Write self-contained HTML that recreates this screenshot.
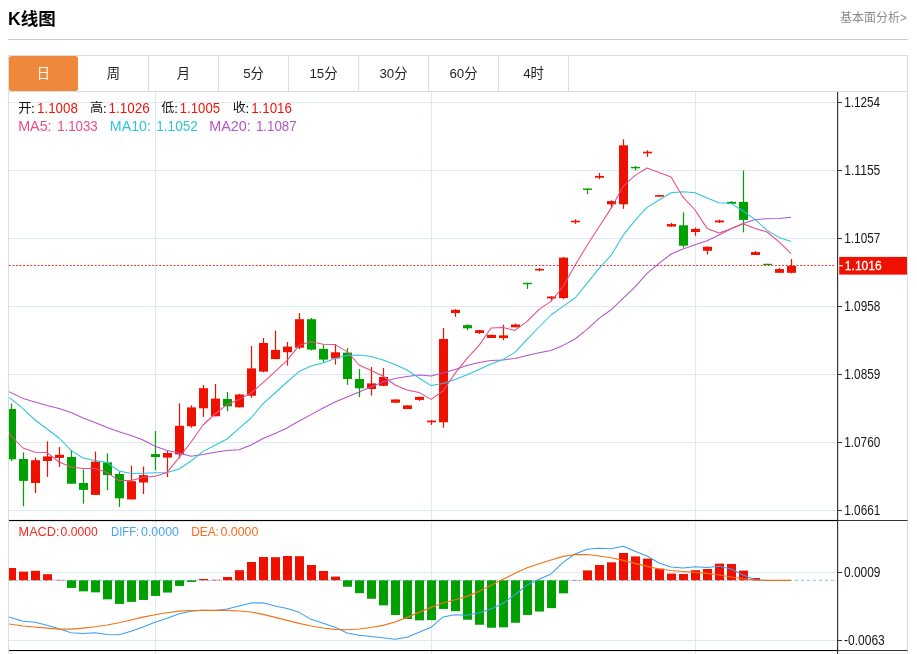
<!DOCTYPE html>
<html lang="zh-CN">
<head>
<meta charset="utf-8">
<title>K线图</title>
<style>
html,body{margin:0;padding:0;background:#fff;}
body{width:917px;height:654px;position:relative;overflow:hidden;font-family:"Liberation Sans","Noto Sans CJK SC",sans-serif;color:#333;}
.title{position:absolute;left:8px;top:6px;font-size:17.5px;font-weight:bold;color:#000;line-height:26px;white-space:nowrap;}
.more{position:absolute;right:10px;top:9px;font-size:12px;color:#8c8c8c;line-height:18px;white-space:nowrap;}
.hr{position:absolute;left:8px;top:39px;width:900px;height:1px;background:#ccc;}
.box{position:absolute;left:8px;top:55px;width:898px;height:620px;border:1px solid #dcdcdc;box-sizing:content-box;}
.tabs{position:absolute;left:8px;top:55px;width:900px;height:36px;border-bottom:1px solid #dcdcdc;}
.tab{position:absolute;top:1px;height:35px;width:69px;border-right:1px solid #dcdcdc;text-align:center;line-height:36.5px;font-size:13.3px;color:#222;}
.tab.on{background:#f0883c;color:#fff;border-radius:2.5px;border-right:none;width:69px;}
</style>
</head>
<body>
<div class="title">K线图</div>
<div class="more">基本面分析&gt;</div>
<div class="hr"></div>
<div class="box"></div>
<div class="tabs">
<div class="tab on" style="left:1px">日</div>
<div class="tab" style="left:71px">周</div>
<div class="tab" style="left:141px">月</div>
<div class="tab" style="left:211px">5分</div>
<div class="tab" style="left:281px">15分</div>
<div class="tab" style="left:351px">30分</div>
<div class="tab" style="left:421px">60分</div>
<div class="tab" style="left:491px">4时</div>
</div>
<svg width="917" height="654" viewBox="0 0 917 654" style="position:absolute;left:0;top:0">
<defs><clipPath id="cp"><rect x="9" y="92" width="828" height="562"/></clipPath></defs>
<rect x="9" y="102" width="828" height="1.05" fill="#dfe9f1"/>
<rect x="9" y="170" width="828" height="1.05" fill="#dfe9f1"/>
<rect x="9" y="238" width="828" height="1.05" fill="#dfe9f1"/>
<rect x="9" y="306" width="828" height="1.05" fill="#dfe9f1"/>
<rect x="9" y="374" width="828" height="1.05" fill="#dfe9f1"/>
<rect x="9" y="442" width="828" height="1.05" fill="#dfe9f1"/>
<rect x="9" y="510" width="828" height="1.05" fill="#dfe9f1"/>
<rect x="9" y="572" width="828" height="1.05" fill="#dfe9f1"/>
<rect x="9" y="640" width="828" height="1.05" fill="#dfe9f1"/>
<rect x="155" y="92" width="1.05" height="562" fill="#dfe9f1"/>
<rect x="431" y="92" width="1.05" height="562" fill="#dfe9f1"/>
<rect x="695" y="92" width="1.05" height="562" fill="#dfe9f1"/>
<line x1="9" y1="580.3" x2="835" y2="580.3" stroke="#7fc8ee" stroke-width="1" stroke-dasharray="3,3"/>
<g clip-path="url(#cp)">
<rect x="7" y="568" width="9" height="12.3" fill="#ee1100"/>
<rect x="19" y="571.6" width="9" height="8.7" fill="#ee1100"/>
<rect x="31" y="570.8" width="9" height="9.5" fill="#ee1100"/>
<rect x="43" y="574.2" width="9" height="6.1" fill="#ee1100"/>
<rect x="55" y="579.9" width="9" height="0.4" fill="#ee1100"/>
<rect x="67" y="580.3" width="9" height="7.65" fill="#00a000"/>
<rect x="79" y="580.3" width="9" height="11.05" fill="#00a000"/>
<rect x="91" y="580.3" width="9" height="12.05" fill="#00a000"/>
<rect x="103" y="580.3" width="9" height="19.05" fill="#00a000"/>
<rect x="115" y="580.3" width="9" height="23.65" fill="#00a000"/>
<rect x="127" y="580.3" width="9" height="21.55" fill="#00a000"/>
<rect x="139" y="580.3" width="9" height="19.65" fill="#00a000"/>
<rect x="151" y="580.3" width="9" height="15.65" fill="#00a000"/>
<rect x="163" y="580.3" width="9" height="12.25" fill="#00a000"/>
<rect x="175" y="580.3" width="9" height="5.65" fill="#00a000"/>
<rect x="187" y="580.3" width="9" height="1.65" fill="#00a000"/>
<rect x="199" y="579" width="9" height="1.3" fill="#ee1100"/>
<rect x="211" y="579.8" width="9" height="0.5" fill="#ee1100"/>
<rect x="223" y="577" width="9" height="3.3" fill="#ee1100"/>
<rect x="235" y="570.2" width="9" height="10.1" fill="#ee1100"/>
<rect x="247" y="562" width="9" height="18.3" fill="#ee1100"/>
<rect x="259" y="557" width="9" height="23.3" fill="#ee1100"/>
<rect x="271" y="557.2" width="9" height="23.1" fill="#ee1100"/>
<rect x="283" y="556" width="9" height="24.3" fill="#ee1100"/>
<rect x="295" y="556.2" width="9" height="24.1" fill="#ee1100"/>
<rect x="307" y="565" width="9" height="15.3" fill="#ee1100"/>
<rect x="319" y="571" width="9" height="9.3" fill="#ee1100"/>
<rect x="331" y="576.6" width="9" height="3.7" fill="#ee1100"/>
<rect x="343" y="580.3" width="9" height="6.45" fill="#00a000"/>
<rect x="355" y="580.3" width="9" height="12.85" fill="#00a000"/>
<rect x="367" y="580.3" width="9" height="18.45" fill="#00a000"/>
<rect x="379" y="580.3" width="9" height="25.05" fill="#00a000"/>
<rect x="391" y="580.3" width="9" height="34.65" fill="#00a000"/>
<rect x="403" y="580.3" width="9" height="38.65" fill="#00a000"/>
<rect x="415" y="580.3" width="9" height="40.05" fill="#00a000"/>
<rect x="427" y="580.3" width="9" height="39.85" fill="#00a000"/>
<rect x="439" y="580.3" width="9" height="28.65" fill="#00a000"/>
<rect x="451" y="580.3" width="9" height="30.85" fill="#00a000"/>
<rect x="463" y="580.3" width="9" height="39.45" fill="#00a000"/>
<rect x="475" y="580.3" width="9" height="44.45" fill="#00a000"/>
<rect x="487" y="580.3" width="9" height="47.45" fill="#00a000"/>
<rect x="499" y="580.3" width="9" height="47.05" fill="#00a000"/>
<rect x="511" y="580.3" width="9" height="42.45" fill="#00a000"/>
<rect x="523" y="580.3" width="9" height="34.65" fill="#00a000"/>
<rect x="535" y="580.3" width="9" height="31.25" fill="#00a000"/>
<rect x="547" y="580.3" width="9" height="27.85" fill="#00a000"/>
<rect x="559" y="580.3" width="9" height="13.05" fill="#00a000"/>
<rect x="571" y="580" width="9" height="0.3" fill="#ee1100"/>
<rect x="583" y="570.4" width="9" height="9.9" fill="#ee1100"/>
<rect x="595" y="565" width="9" height="15.3" fill="#ee1100"/>
<rect x="607" y="562.3" width="9" height="18" fill="#ee1100"/>
<rect x="619" y="553" width="9" height="27.3" fill="#ee1100"/>
<rect x="631" y="556.4" width="9" height="23.9" fill="#ee1100"/>
<rect x="643" y="558.6" width="9" height="21.7" fill="#ee1100"/>
<rect x="655" y="568.6" width="9" height="11.7" fill="#ee1100"/>
<rect x="667" y="573.6" width="9" height="6.7" fill="#ee1100"/>
<rect x="679" y="574" width="9" height="6.3" fill="#ee1100"/>
<rect x="691" y="570.2" width="9" height="10.1" fill="#ee1100"/>
<rect x="703" y="569" width="9" height="11.3" fill="#ee1100"/>
<rect x="715" y="563.6" width="9" height="16.7" fill="#ee1100"/>
<rect x="727" y="564" width="9" height="16.3" fill="#ee1100"/>
<rect x="739" y="570.6" width="9" height="9.7" fill="#ee1100"/>
<rect x="751" y="578" width="9" height="2.3" fill="#ee1100"/>
<rect x="10.9" y="403.6" width="1.2" height="57.3" fill="#00a000"/>
<rect x="7" y="409" width="9" height="50.3" fill="#00a000"/>
<rect x="22.9" y="452.4" width="1.2" height="53.9" fill="#00a000"/>
<rect x="19" y="459" width="9" height="21.9" fill="#00a000"/>
<rect x="34.9" y="457.6" width="1.2" height="35.4" fill="#ee1100"/>
<rect x="31" y="460.2" width="9" height="22.8" fill="#ee1100"/>
<rect x="46.9" y="441.4" width="1.2" height="35.5" fill="#ee1100"/>
<rect x="43" y="456.4" width="9" height="4.6" fill="#ee1100"/>
<rect x="58.9" y="447" width="1.2" height="19.9" fill="#ee1100"/>
<rect x="55" y="454.8" width="9" height="3.1" fill="#ee1100"/>
<rect x="70.9" y="450.4" width="1.2" height="33.3" fill="#00a000"/>
<rect x="67" y="457" width="9" height="26.7" fill="#00a000"/>
<rect x="82.9" y="469.4" width="1.2" height="34.3" fill="#00a000"/>
<rect x="79" y="483" width="9" height="6.9" fill="#00a000"/>
<rect x="94.9" y="451.6" width="1.2" height="43.3" fill="#ee1100"/>
<rect x="91" y="461.6" width="9" height="33.3" fill="#ee1100"/>
<rect x="106.9" y="453.4" width="1.2" height="36.9" fill="#00a000"/>
<rect x="103" y="462.4" width="9" height="12.7" fill="#00a000"/>
<rect x="118.9" y="471.6" width="1.2" height="35.3" fill="#00a000"/>
<rect x="115" y="474" width="9" height="24.3" fill="#00a000"/>
<rect x="130.9" y="465.5" width="1.2" height="34.1" fill="#ee1100"/>
<rect x="127" y="481.2" width="9" height="18.2" fill="#ee1100"/>
<rect x="142.9" y="466.6" width="1.2" height="27.4" fill="#ee1100"/>
<rect x="139" y="475.2" width="9" height="7.3" fill="#ee1100"/>
<rect x="154.9" y="431" width="1.2" height="39.3" fill="#00a000"/>
<rect x="151" y="454.1" width="9" height="2.9" fill="#00a000"/>
<rect x="166.9" y="451" width="1.2" height="26" fill="#ee1100"/>
<rect x="163" y="453" width="9" height="4.6" fill="#ee1100"/>
<rect x="178.9" y="403.4" width="1.2" height="55" fill="#ee1100"/>
<rect x="175" y="425.8" width="9" height="28.5" fill="#ee1100"/>
<rect x="190.9" y="405.4" width="1.2" height="22.3" fill="#ee1100"/>
<rect x="187" y="407.4" width="9" height="18.9" fill="#ee1100"/>
<rect x="202.9" y="385" width="1.2" height="31.9" fill="#ee1100"/>
<rect x="199" y="388.2" width="9" height="20.1" fill="#ee1100"/>
<rect x="214.9" y="384" width="1.2" height="32.3" fill="#ee1100"/>
<rect x="211" y="398.6" width="9" height="17.7" fill="#ee1100"/>
<rect x="226.9" y="392" width="1.2" height="19.3" fill="#00a000"/>
<rect x="223" y="399" width="9" height="7.3" fill="#00a000"/>
<rect x="238.9" y="394" width="1.2" height="13.5" fill="#ee1100"/>
<rect x="235" y="394.5" width="9" height="12.8" fill="#ee1100"/>
<rect x="250.9" y="346" width="1.2" height="51.8" fill="#ee1100"/>
<rect x="247" y="368.4" width="9" height="27.3" fill="#ee1100"/>
<rect x="262.9" y="338" width="1.2" height="34.3" fill="#ee1100"/>
<rect x="259" y="343" width="9" height="28.6" fill="#ee1100"/>
<rect x="274.9" y="330.6" width="1.2" height="28.5" fill="#ee1100"/>
<rect x="271" y="349.9" width="9" height="9.2" fill="#ee1100"/>
<rect x="286.9" y="342" width="1.2" height="23.6" fill="#ee1100"/>
<rect x="283" y="346.6" width="9" height="5.6" fill="#ee1100"/>
<rect x="298.9" y="313" width="1.2" height="36.2" fill="#ee1100"/>
<rect x="295" y="319.2" width="9" height="28.5" fill="#ee1100"/>
<rect x="310.9" y="318" width="1.2" height="32.5" fill="#00a000"/>
<rect x="307" y="319.2" width="9" height="30.4" fill="#00a000"/>
<rect x="322.9" y="345" width="1.2" height="17.5" fill="#00a000"/>
<rect x="319" y="348.9" width="9" height="10.7" fill="#00a000"/>
<rect x="334.9" y="344" width="1.2" height="20.6" fill="#ee1100"/>
<rect x="331" y="352.3" width="9" height="6.1" fill="#ee1100"/>
<rect x="346.9" y="348" width="1.2" height="36.8" fill="#00a000"/>
<rect x="343" y="352.6" width="9" height="26.4" fill="#00a000"/>
<rect x="358.9" y="369" width="1.2" height="28.1" fill="#00a000"/>
<rect x="355" y="379" width="9" height="9.3" fill="#00a000"/>
<rect x="370.9" y="367" width="1.2" height="28.5" fill="#ee1100"/>
<rect x="367" y="383.4" width="9" height="5.6" fill="#ee1100"/>
<rect x="382.9" y="368" width="1.2" height="18.3" fill="#ee1100"/>
<rect x="379" y="377" width="9" height="8.8" fill="#ee1100"/>
<rect x="394.9" y="399.3" width="1.2" height="3.5" fill="#ee1100"/>
<rect x="391" y="399.5" width="9" height="3.2" fill="#ee1100"/>
<rect x="406.9" y="405.2" width="1.2" height="3.8" fill="#ee1100"/>
<rect x="403" y="405.4" width="9" height="3.6" fill="#ee1100"/>
<rect x="418.9" y="396.6" width="1.2" height="4.3" fill="#ee1100"/>
<rect x="415" y="396.9" width="9" height="3" fill="#ee1100"/>
<rect x="430.9" y="420" width="1.2" height="4.9" fill="#ee1100"/>
<rect x="427" y="420.6" width="9" height="1.7" fill="#ee1100"/>
<rect x="442.9" y="328" width="1.2" height="99.7" fill="#ee1100"/>
<rect x="439" y="339" width="9" height="83.3" fill="#ee1100"/>
<rect x="454.9" y="309.2" width="1.2" height="7.6" fill="#ee1100"/>
<rect x="451" y="309.8" width="9" height="3.2" fill="#ee1100"/>
<rect x="466.9" y="324.3" width="1.2" height="5.9" fill="#00a000"/>
<rect x="463" y="325.1" width="9" height="3.2" fill="#00a000"/>
<rect x="478.9" y="329.8" width="1.2" height="4.1" fill="#ee1100"/>
<rect x="475" y="330.2" width="9" height="2.8" fill="#ee1100"/>
<rect x="490.9" y="334.6" width="1.2" height="3.4" fill="#ee1100"/>
<rect x="487" y="334.9" width="9" height="3.1" fill="#ee1100"/>
<rect x="502.9" y="324.7" width="1.2" height="15.5" fill="#ee1100"/>
<rect x="499" y="335.4" width="9" height="2.7" fill="#ee1100"/>
<rect x="514.9" y="323.6" width="1.2" height="3.7" fill="#ee1100"/>
<rect x="511" y="324.5" width="9" height="2.8" fill="#ee1100"/>
<rect x="526.9" y="282.8" width="1.2" height="6.1" fill="#00a000"/>
<rect x="523" y="282.8" width="9" height="1.4" fill="#00a000"/>
<rect x="538.9" y="268" width="1.2" height="3.2" fill="#ee1100"/>
<rect x="535" y="268.9" width="9" height="1.6" fill="#ee1100"/>
<rect x="550.9" y="296.3" width="1.2" height="3.9" fill="#ee1100"/>
<rect x="547" y="296.5" width="9" height="1.9" fill="#ee1100"/>
<rect x="562.9" y="257" width="1.2" height="42.3" fill="#ee1100"/>
<rect x="559" y="257.6" width="9" height="40.5" fill="#ee1100"/>
<rect x="574.9" y="219.3" width="1.2" height="4.6" fill="#ee1100"/>
<rect x="571" y="220.7" width="9" height="1.6" fill="#ee1100"/>
<rect x="586.9" y="188.5" width="1.2" height="5.8" fill="#00a000"/>
<rect x="583" y="188.5" width="9" height="1.4" fill="#00a000"/>
<rect x="598.9" y="172.9" width="1.2" height="6.4" fill="#ee1100"/>
<rect x="595" y="175.9" width="9" height="1.8" fill="#ee1100"/>
<rect x="610.9" y="200.3" width="1.2" height="7.6" fill="#ee1100"/>
<rect x="607" y="201.1" width="9" height="3.2" fill="#ee1100"/>
<rect x="622.9" y="139.3" width="1.2" height="69.6" fill="#ee1100"/>
<rect x="619" y="145.3" width="9" height="59" fill="#ee1100"/>
<rect x="634.9" y="165.9" width="1.2" height="4.4" fill="#00a000"/>
<rect x="631" y="166.9" width="9" height="1.4" fill="#00a000"/>
<rect x="646.9" y="150.3" width="1.2" height="6.6" fill="#ee1100"/>
<rect x="643" y="151.7" width="9" height="1.6" fill="#ee1100"/>
<rect x="658.9" y="195.1" width="1.2" height="1.6" fill="#ee1100"/>
<rect x="655" y="195.1" width="9" height="1.6" fill="#ee1100"/>
<rect x="670.9" y="222.9" width="1.2" height="4" fill="#ee1100"/>
<rect x="667" y="224.1" width="9" height="2.4" fill="#ee1100"/>
<rect x="682.9" y="212.3" width="1.2" height="35.4" fill="#00a000"/>
<rect x="679" y="225.3" width="9" height="20.4" fill="#00a000"/>
<rect x="694.9" y="227.6" width="1.2" height="8.2" fill="#ee1100"/>
<rect x="691" y="228.9" width="9" height="3.1" fill="#ee1100"/>
<rect x="706.9" y="246.7" width="1.2" height="7.9" fill="#ee1100"/>
<rect x="703" y="246.7" width="9" height="4.1" fill="#ee1100"/>
<rect x="718.9" y="219.6" width="1.2" height="3.4" fill="#ee1100"/>
<rect x="715" y="220.5" width="9" height="1.9" fill="#ee1100"/>
<rect x="730.9" y="201" width="1.2" height="2.8" fill="#00a000"/>
<rect x="727" y="201.9" width="9" height="1.9" fill="#00a000"/>
<rect x="742.9" y="170.5" width="1.2" height="61.8" fill="#00a000"/>
<rect x="739" y="201.9" width="9" height="18" fill="#00a000"/>
<rect x="754.9" y="251.1" width="1.2" height="3.9" fill="#ee1100"/>
<rect x="751" y="252.1" width="9" height="2.9" fill="#ee1100"/>
<rect x="766.9" y="263.8" width="1.2" height="1.3" fill="#00a000"/>
<rect x="763" y="263.8" width="9" height="1.3" fill="#00a000"/>
<rect x="778.9" y="267.8" width="1.2" height="5" fill="#ee1100"/>
<rect x="775" y="269.1" width="9" height="3.7" fill="#ee1100"/>
<rect x="790.9" y="259" width="1.2" height="14.4" fill="#ee1100"/>
<rect x="787" y="265.9" width="9" height="6.9" fill="#ee1100"/>
</g>
<line x1="8.9" y1="265.5" x2="835.6" y2="265.5" stroke="#ee1100" stroke-width="1" opacity="0.9" stroke-dasharray="1.79,1.79"/>
<g clip-path="url(#cp)" fill="none" stroke-width="1.05" stroke-linejoin="round">
<polyline points="9,391.6 23.05,398.4 35.05,402 47.05,405.6 59.05,408.6 71.05,412.4 83.05,418 95.05,422.6 107.05,427.6 119.05,431.8 131.05,435.6 143.05,440 155.05,446.2 167.05,450.6 179.05,453 191.05,456.2 203.05,454.6 215.05,452.2 227.05,450.4 239.05,449.8 251.05,445 263.05,438.5 275.05,433.4 287.05,428 299.05,421 311.05,414.6 323.05,408 335.05,402 347.05,397 359.05,392 371.05,387 383.05,382 395.05,378.6 407.05,376.4 419.05,375 431.05,376 443.05,373 455.05,369.4 467.05,365.4 479.05,362.4 491.05,360.4 503.05,360 515.05,358.4 527.05,355.4 539.05,352.8 551.05,350.4 563.05,345.4 575.05,339 587.05,329.4 599.05,318.4 611.05,309.8 623.05,298.4 635.05,286.8 647.05,273.4 659.05,263.4 671.05,254 683.05,249 695.05,244.8 707.05,240.8 719.05,235 731.05,228.8 743.05,223.4 755.05,219.4 767.05,218.8 779.05,218.6 791.05,217.2" stroke="#b455c8"/>
<polyline points="9,397.4 23.05,408.6 35.05,420 47.05,429 59.05,438 71.05,450.4 83.05,458 95.05,460.6 107.05,462.6 119.05,471 131.05,473.4 143.05,473.2 155.05,472.8 167.05,472.4 179.05,469 191.05,461 203.05,451.4 215.05,445.3 227.05,439 239.05,428.3 251.05,418 263.05,403.6 275.05,393 287.05,382 299.05,371.6 311.05,366 323.05,363 335.05,358.6 347.05,355.4 359.05,355 371.05,356.6 383.05,360 395.05,364.4 407.05,370 419.05,378 431.05,385.6 443.05,383.6 455.05,379.4 467.05,374.8 479.05,369.4 491.05,364 503.05,359.4 515.05,352.4 527.05,339.4 539.05,327 551.05,315 563.05,306.4 575.05,298 587.05,283.4 599.05,268.4 611.05,255.4 623.05,235.4 635.05,220.4 647.05,207.4 659.05,200 671.05,192.8 683.05,191.7 695.05,192.8 707.05,198 719.05,202.8 731.05,203.4 743.05,211 755.05,219.4 767.05,230.4 779.05,237.4 791.05,241.4" stroke="#2ec4dc"/>
<polyline points="9,432 11.05,436 23.05,448 35.05,452.2 47.05,452.6 59.05,462 71.05,467 83.05,468.4 95.05,468.6 107.05,472.4 119.05,480.6 131.05,480.4 143.05,477.6 155.05,476.2 167.05,472.4 179.05,457.6 191.05,442 203.05,425 215.05,414 227.05,404.6 239.05,399.4 251.05,393 263.05,382.6 275.05,371.6 287.05,360.4 299.05,345.6 311.05,341.4 323.05,344.2 335.05,344.6 347.05,351.6 359.05,365 371.05,370.4 383.05,376 395.05,385 407.05,390 419.05,392.4 431.05,399.4 443.05,391 455.05,373.4 467.05,358.4 479.05,345.4 491.05,328 503.05,327.6 515.05,330.4 527.05,321.4 539.05,309.4 551.05,301.4 563.05,286.5 575.05,265.3 587.05,245.6 599.05,226.8 611.05,208.4 623.05,186.4 635.05,175.4 647.05,168 659.05,172.4 671.05,177 683.05,197.2 695.05,210 707.05,228.4 719.05,232.9 731.05,228.8 743.05,223.8 755.05,228.4 767.05,232 779.05,241.8 791.05,253.6" stroke="#e84c88"/>
<polyline points="9,616.95 23.05,621.35 35.05,622.35 47.05,625.35 59.05,628.75 71.05,632.75 83.05,633.55 95.05,632.75 107.05,634.55 119.05,634.65 131.05,631.35 143.05,626.95 155.05,622.35 167.05,618.35 179.05,613.75 191.05,611.35 203.05,610.15 215.05,610.55 227.05,608.95 239.05,605.95 251.05,602.95 263.05,602.75 275.05,605.95 287.05,608.55 299.05,612.35 311.05,619.35 323.05,623.35 335.05,627.35 347.05,632.95 359.05,635.35 371.05,636.55 383.05,637.75 395.05,639.35 407.05,637.35 419.05,632.35 431.05,627.35 443.05,616.95 455.05,614.75 467.05,615.35 479.05,612.75 491.05,608.95 503.05,603.35 515.05,594.75 527.05,584.95 539.05,579.35 551.05,573.95 563.05,562.35 575.05,553.95 587.05,549.35 599.05,548.15 611.05,548.75 623.05,546.35 635.05,551.35 647.05,555.95 659.05,562.95 671.05,566.95 683.05,567.95 695.05,566.75 707.05,567.55 719.05,566.35 731.05,568.95 743.05,574.95 755.05,579.75 767.05,580.4 779.05,580.4 791.05,580.4" stroke="#3a9ff2" stroke-width="1.05"/>
<polyline points="9,623.95 23.05,625.95 35.05,626.95 47.05,628.15 59.05,629.15 71.05,629.15 83.05,628.15 95.05,626.75 107.05,624.95 119.05,622.75 131.05,619.95 143.05,617.15 155.05,614.75 167.05,612.75 179.05,611.15 191.05,610.55 203.05,610.35 215.05,610.35 227.05,610.35 239.05,610.95 251.05,611.95 263.05,614.35 275.05,617.35 287.05,620.35 299.05,623.35 311.05,625.95 323.05,627.95 335.05,629.35 347.05,629.75 359.05,628.95 371.05,627.55 383.05,625.35 395.05,621.95 407.05,617.35 419.05,612.35 431.05,607.35 443.05,602.95 455.05,599.75 467.05,596.35 479.05,591.35 491.05,585.35 503.05,579.35 515.05,573.35 527.05,567.75 539.05,563.75 551.05,559.95 563.05,556.35 575.05,554.55 587.05,554.55 599.05,555.95 611.05,557.75 623.05,560.35 635.05,563.35 647.05,566.35 659.05,568.95 671.05,570.55 683.05,571.55 695.05,572.35 707.05,573.35 719.05,574.95 731.05,576.95 743.05,578.75 755.05,579.95 767.05,580.4 779.05,580.4 791.05,580.4" stroke="#f47216" stroke-width="1.15"/>
</g>
<rect x="837" y="92" width="1.15" height="562" fill="#333"/>
<rect x="9" y="519.95" width="828" height="1.15" fill="#000"/><rect x="838" y="520" width="69.5" height="1" fill="#333"/>
<rect x="9" y="650" width="828" height="1.05" fill="#000"/><rect x="838" y="650" width="69.5" height="1" fill="#333"/>
<rect x="838" y="102" width="4" height="1" fill="#333"/>
<rect x="838" y="170" width="4" height="1" fill="#333"/>
<rect x="838" y="238" width="4" height="1" fill="#333"/>
<rect x="838" y="306" width="4" height="1" fill="#333"/>
<rect x="838" y="374" width="4" height="1" fill="#333"/>
<rect x="838" y="442" width="4" height="1" fill="#333"/>
<rect x="838" y="510" width="4" height="1" fill="#333"/>
<rect x="838" y="572" width="4" height="1" fill="#333"/>
<rect x="838" y="640" width="4" height="1" fill="#333"/>
<rect x="839.2" y="256.9" width="67.8" height="17.7" fill="#ee1100"/>
<rect x="839.2" y="265.1" width="3.9" height="1.2" fill="#fff"/>
<g font-family="'Liberation Sans','Noto Sans CJK SC',sans-serif">
<text transform="translate(844.26,106.96) scale(0.833,1)" font-size="14.08" fill="#151515">1.1254</text>
<text transform="translate(844.23,174.96) scale(0.847,1)" font-size="14.29" fill="#151515">1.1155</text>
<text transform="translate(844.26,242.96) scale(0.838,1)" font-size="14.08" fill="#151515">1.1057</text>
<text transform="translate(844.26,310.96) scale(0.838,1)" font-size="14.08" fill="#151515">1.0958</text>
<text transform="translate(844.26,378.96) scale(0.838,1)" font-size="14.08" fill="#151515">1.0859</text>
<text transform="translate(844.26,446.96) scale(0.836,1)" font-size="14.08" fill="#151515">1.0760</text>
<text transform="translate(844.26,514.96) scale(0.838,1)" font-size="14.08" fill="#151515">1.0661</text>
<text transform="translate(844.02,576.96) scale(0.838,1)" font-size="14.23" fill="#151515">0.0009</text>
<text transform="translate(844.02,644.66) scale(0.862,1)" font-size="13.94" fill="#151515">-0.0063</text>
<text transform="translate(844.84,269.97) scale(0.940,1)" font-size="12.82" fill="#fff" stroke="#fff" stroke-width="0.3">1.1016</text>
<text transform="translate(37.03,112.96) scale(0.938,1)" font-size="14.23" fill="#f01408">1.1008</text>
<text transform="translate(108.42,112.96) scale(0.948,1)" font-size="14.23" fill="#f01408">1.1026</text>
<text transform="translate(179.85,112.96) scale(0.923,1)" font-size="14.23" fill="#f01408">1.1005</text>
<text transform="translate(251.13,112.96) scale(0.938,1)" font-size="14.23" fill="#f01408">1.1016</text>
<text transform="translate(18.34,112.13) scale(1.018,1)" font-size="12.99" fill="#111">开</text>
<text transform="translate(30.85,113.10) scale(1.103,1)" font-size="13.60" fill="#111">:</text>
<text transform="translate(90.01,112.33) scale(1.085,1)" font-size="12.15" fill="#111">高</text>
<text transform="translate(102.65,113.10) scale(1.103,1)" font-size="13.60" fill="#111">:</text>
<text transform="translate(161.21,112.21) scale(1.077,1)" font-size="12.15" fill="#111">低</text>
<text transform="translate(173.95,113.10) scale(1.103,1)" font-size="13.60" fill="#111">:</text>
<text transform="translate(232.73,112.32) scale(1.049,1)" font-size="12.28" fill="#111">收</text>
<text transform="translate(245.25,113.10) scale(1.103,1)" font-size="13.60" fill="#111">:</text>
<text transform="translate(18.15,130.86) scale(1.025,1)" font-size="14.00" fill="#e84c88">MA5:</text>
<text transform="translate(57.14,130.86) scale(0.962,1)" font-size="13.80" fill="#e84c88">1.1033</text>
<text transform="translate(109.86,130.86) scale(1.031,1)" font-size="13.80" fill="#2ec4dc">MA10:</text>
<text transform="translate(156.32,130.86) scale(0.982,1)" font-size="13.80" fill="#2ec4dc">1.1052</text>
<text transform="translate(209.25,130.86) scale(1.039,1)" font-size="13.80" fill="#b455c8">MA20:</text>
<text transform="translate(255.94,130.86) scale(0.964,1)" font-size="13.80" fill="#b455c8">1.1087</text>
<text transform="translate(18.58,535.67) scale(1.012,1)" font-size="12.54" fill="#f5281c">MACD:</text>
<text transform="translate(60.61,535.67) scale(0.969,1)" font-size="12.54" fill="#f5281c">0.0000</text>
<text transform="translate(111.00,535.80) scale(0.875,1)" font-size="12.90" fill="#46a2f4">DIFF:</text>
<text transform="translate(141.00,535.67) scale(0.990,1)" font-size="12.54" fill="#46a2f4">0.0000</text>
<text transform="translate(191.15,535.80) scale(0.922,1)" font-size="12.90" fill="#fa6c18">DEA:</text>
<text transform="translate(220.50,535.67) scale(0.988,1)" font-size="12.54" fill="#fa6c18">0.0000</text>
</g>
</svg>

</body>
</html>
